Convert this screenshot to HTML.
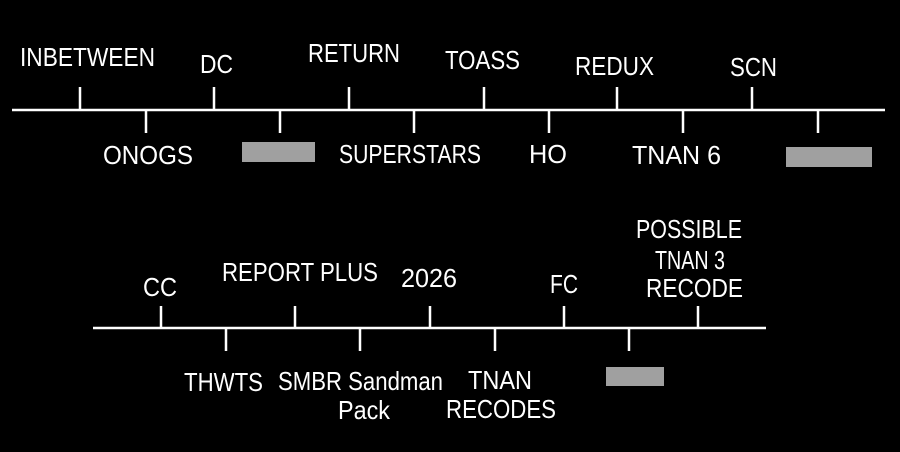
<!DOCTYPE html>
<html><head><meta charset="utf-8"><style>
html,body{margin:0;padding:0;background:#000;width:900px;height:452px;overflow:hidden}
svg{display:block}
text{font-family:"Liberation Sans",sans-serif;font-size:26px;fill:#fff}
</style></head><body>
<svg width="900" height="452" viewBox="0 0 900 452">
<rect width="900" height="452" fill="#000"/>
<g stroke="#fff" stroke-width="2.5">
<line x1="12" y1="110" x2="885" y2="110"/>
<line x1="80" y1="87" x2="80" y2="110"/>
<line x1="214" y1="87" x2="214" y2="110"/>
<line x1="349" y1="87" x2="349" y2="110"/>
<line x1="484" y1="87" x2="484" y2="110"/>
<line x1="617" y1="87" x2="617" y2="110"/>
<line x1="752" y1="87" x2="752" y2="110"/>
<line x1="146" y1="110" x2="146" y2="133"/>
<line x1="280" y1="110" x2="280" y2="133"/>
<line x1="414" y1="110" x2="414" y2="133"/>
<line x1="549" y1="110" x2="549" y2="133"/>
<line x1="683" y1="110" x2="683" y2="133"/>
<line x1="818" y1="110" x2="818" y2="133"/>
<line x1="93" y1="328" x2="766" y2="328"/>
<line x1="161" y1="306" x2="161" y2="328"/>
<line x1="295" y1="306" x2="295" y2="328"/>
<line x1="430" y1="306" x2="430" y2="328"/>
<line x1="564" y1="306" x2="564" y2="328"/>
<line x1="698" y1="306" x2="698" y2="328"/>
<line x1="226" y1="328" x2="226" y2="351"/>
<line x1="360" y1="328" x2="360" y2="351"/>
<line x1="495" y1="328" x2="495" y2="351"/>
<line x1="629" y1="328" x2="629" y2="351"/>
</g>
<g fill="#a0a0a0">
<rect x="242" y="142" width="73" height="20"/>
<rect x="786" y="147" width="86" height="20"/>
<rect x="606" y="367" width="58" height="19"/>
</g>
<g>
<text x="20" y="66" textLength="135" lengthAdjust="spacingAndGlyphs">INBETWEEN</text>
<text x="200" y="73" textLength="33" lengthAdjust="spacingAndGlyphs">DC</text>
<text x="308" y="62" textLength="92" lengthAdjust="spacingAndGlyphs">RETURN</text>
<text x="445" y="69" textLength="75" lengthAdjust="spacingAndGlyphs">TOASS</text>
<text x="575" y="75" textLength="79" lengthAdjust="spacingAndGlyphs">REDUX</text>
<text x="730" y="76" textLength="47" lengthAdjust="spacingAndGlyphs">SCN</text>
<text x="103" y="164" textLength="90" lengthAdjust="spacingAndGlyphs">ONOGS</text>
<text x="339" y="163" textLength="142" lengthAdjust="spacingAndGlyphs">SUPERSTARS</text>
<text x="529" y="163" textLength="38" lengthAdjust="spacingAndGlyphs">HO</text>
<text x="632" y="164" textLength="89" lengthAdjust="spacingAndGlyphs">TNAN 6</text>
<text x="143" y="296" textLength="34" lengthAdjust="spacingAndGlyphs">CC</text>
<text x="222" y="281" textLength="156" lengthAdjust="spacingAndGlyphs">REPORT PLUS</text>
<text x="401" y="287" textLength="56" lengthAdjust="spacingAndGlyphs">2026</text>
<text x="550" y="293" textLength="28" lengthAdjust="spacingAndGlyphs">FC</text>
<text x="636" y="238" textLength="106" lengthAdjust="spacingAndGlyphs">POSSIBLE</text>
<text x="655" y="269" textLength="70" lengthAdjust="spacingAndGlyphs">TNAN 3</text>
<text x="646" y="297" textLength="97" lengthAdjust="spacingAndGlyphs">RECODE</text>
<text x="184" y="391" textLength="79" lengthAdjust="spacingAndGlyphs">THWTS</text>
<text x="278" y="390" textLength="165" lengthAdjust="spacingAndGlyphs">SMBR Sandman</text>
<text x="338" y="419" textLength="52" lengthAdjust="spacingAndGlyphs">Pack</text>
<text x="468" y="389" textLength="64" lengthAdjust="spacingAndGlyphs">TNAN</text>
<text x="446" y="418" textLength="110" lengthAdjust="spacingAndGlyphs">RECODES</text>
</g>
</svg>
</body></html>
